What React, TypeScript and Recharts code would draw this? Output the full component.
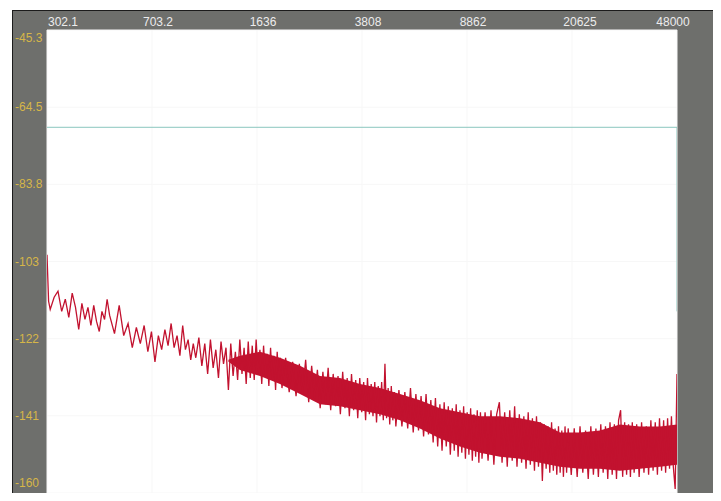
import { ComposedChart, Line, Area, XAxis, YAxis, CartesianGrid } from 'recharts';

// frequency axis (log) and level axis
const X_TICKS = [302.1, 703.2, 1636, 3808, 8862, 20625, 48000];
const Y_TICKS = [-45.3, -64.42, -83.53, -102.65, -121.77, -140.88, -160];
const Y_LABELS = ['-45.3', '-64.5', '-83.8', '-103', '-122', '-141', '-160'];

// spectrum trace (Hz / dB)
const FREQS = [
  302.1, 306, 310, 320, 330, 340, 350, 360, 370, 380, 390, 400, 410, 420, 430, 440, 450, 460, 470, 480, 490, 500,
  520, 540, 560, 580, 600, 620, 640, 660, 680, 700, 720, 740, 760, 780, 800, 820, 840, 860, 880, 900, 920, 940, 960, 980, 1000,
  1025, 1050, 1075, 1100, 1125, 1150, 1175, 1200, 1225, 1250, 1275, 1300, 1325, 1350, 1375, 1400, 1425, 1450, 1475, 1500,
  1525, 1550, 1575, 1600, 1625, 1650, 1675, 1700, 1725, 1750, 1775, 1800, 1825, 1850, 1875, 1900, 1925, 1950, 1975, 2000,
  2060, 2120, 2180, 2240, 2300, 2360, 2420, 2480, 2540, 2600, 2660, 2720, 2780, 2840, 2900, 2960, 3020, 3080, 3140,
  3200, 3260, 3320, 3380, 3440, 3500, 3560, 3620, 3680, 3740, 3800, 3860, 3920, 3980, 4040, 4100, 4160, 4220, 4280, 4340,
  4400, 4460, 4520, 4580, 4640, 4700, 4760, 4820, 4880, 4940, 5000,
  5125, 5250, 5375, 5500, 5625, 5750, 5875, 6000, 6125, 6250, 6375, 6500, 6625, 6750, 6875, 7000, 7125, 7250, 7375, 7500,
  7625, 7750, 7875, 8000, 8125, 8250, 8375, 8500, 8625, 8750, 8875, 9000, 9125, 9250, 9375, 9500, 9625, 9750, 9875, 10000,
  10250, 10500, 10750, 11000, 11250, 11500, 11750, 12000, 12250, 12500, 12750, 13000, 13250, 13500, 13750, 14000, 14250, 14500, 14750, 15000,
  15250, 15500, 15750, 16000, 16250, 16500, 16750, 17000, 17250, 17500, 17750, 18000, 18250, 18500, 18750, 19000, 19250, 19500, 19750, 20000,
  20500, 21000, 21500, 22000, 22500, 23000, 23500, 24000, 24500, 25000, 25500, 26000, 26500, 27000,
  27500, 28000, 28500, 29000, 29500, 30000, 30500, 31000, 31500, 32000, 32500, 33000, 33500, 34000,
  34700, 35400, 36100, 36800, 37500, 38200, 38900, 39600, 40300, 41000, 41700, 42400, 43100, 43800, 44500, 45200, 45900, 46600, 47300, 48000,
];
const LEVELS = [
  -101.0, -112.5, -114.5, -111.5, -110.0, -115.0, -112.0, -116.5, -110.5, -114.0, -119.5, -113.0, -117.0, -114.0, -118.5, -113.5, -117.5, -120.0, -115.0, -117.0, -112.0, -116.0,
  -120.5, -113.5, -121.0, -118.0, -124.0, -119.0, -123.0, -118.5, -125.0, -120.0, -127.5, -121.0, -124.5, -119.5, -123.5, -118.0, -124.0, -121.0, -126.0, -118.5, -124.5, -122.0, -127.0, -123.0, -126.5,
  -121.5, -128.5, -123.0, -130.5, -122.0, -129.0, -124.5, -131.5, -122.5, -128.0, -124.0, -134.5, -123.0, -131.0, -125.0, -132.0, -122.0, -130.5, -124.0, -133.0,
  -122.5, -131.5, -123.5, -132.0, -122.0, -130.5, -124.5, -133.0, -123.5, -131.0, -125.5, -133.5, -124.0, -132.0, -126.0, -134.5, -125.0, -132.5, -126.5, -134.0,
  -126.5, -135.0, -127.5, -136.0, -128.0, -135.5, -127.0, -137.5, -128.5, -136.5, -129.5, -139.0, -130.0, -138.0, -129.0, -139.5, -130.5, -138.5, -131.0,
  -140.5, -130.0, -139.0, -131.5, -141.0, -130.5, -139.5, -132.0, -141.5, -131.5, -140.0, -132.5, -142.0, -131.5, -140.5, -133.0, -141.0, -132.5, -142.5, -133.5,
  -141.0, -132.5, -142.0, -128.0, -141.5, -134.0, -143.0, -133.5, -142.0, -135.0, -143.5,
  -134.5, -143.5, -135.0, -144.0, -134.0, -145.0, -135.5, -144.5, -136.0, -146.0, -135.5, -145.5, -137.0, -147.5, -136.5, -148.5, -138.0, -149.5, -137.5, -148.5,
  -138.5, -150.5, -139.0, -149.5, -138.0, -151.0, -139.5, -150.0, -138.5, -151.5, -140.0, -150.5, -139.0, -152.0, -140.5, -151.0, -139.5, -152.5, -140.0, -151.5,
  -140.0, -152.0, -139.5, -153.0, -140.5, -137.5, -152.5, -140.0, -153.5, -139.5, -152.0, -138.5, -153.5, -140.5, -152.5, -141.0, -154.0, -140.0, -153.0, -141.5,
  -154.5, -141.0, -153.5, -142.5, -157.0, -143.0, -154.0, -143.5, -155.0, -142.5, -154.5, -144.0, -155.5, -143.5, -155.0, -144.5, -156.0, -143.5, -155.0, -144.0,
  -155.5, -144.0, -156.0, -143.5, -155.0, -144.5, -156.5, -143.5, -155.5, -144.0, -156.0, -143.0, -155.0, -143.5,
  -156.5, -142.5, -155.5, -143.0, -156.5, -142.0, -139.5, -156.0, -142.5, -155.5, -143.0, -156.0, -142.5, -155.0,
  -143.0, -156.0, -142.5, -155.0, -143.5, -155.5, -142.0, -154.5, -142.5, -155.5, -141.5, -154.5, -142.0, -155.0, -141.5, -154.0, -141.0, -153.5, -159.0, -130.5,
];

// dense core of the noise band
const BAND_FREQS = [1300, 1427, 1676, 1968, 2312, 2716, 3190, 3746, 4400, 5170, 6069, 7130, 8375, 9837, 11553, 13570, 15940, 18720, 21985, 25820, 30330, 35620, 41840, 48000];
const BAND_LO = [-127.5, -129.5, -131, -133, -135.5, -138, -138.5, -139.5, -140.5, -142, -144, -146.5, -148.5, -150, -151, -151.5, -152.5, -153.5, -154, -154, -154.5, -154, -153.5, -153];
const BAND_HI = [-127, -126, -125, -126.5, -128.5, -131, -131.5, -133, -134, -135.5, -137, -139, -140, -141, -141, -141.5, -142.5, -145, -145, -144.5, -143, -143.5, -143.5, -143];

// reference line (cyan)
const REF_FREQS = [302.1, 48000, 48000];
const REF_LEVELS = [-69.4, -69.4, -115];

const spec = FREQS.map((f, i) => ({ f, db: LEVELS[i] }));
const band = BAND_FREQS.map((f, i) => ({ f, range: [BAND_LO[i], BAND_HI[i]] }));
const ref = REF_FREQS.map((f, i) => ({ f, db: REF_LEVELS[i] }));

const RED = '#c2122f';
const FONT = '"Liberation Sans", Arial, sans-serif';

const XTick = ({ x, index, payload }: any) => {
  const last = X_TICKS.length - 1;
  const dx = index === 0 ? 16 : index === last ? -4 : index === 5 ? 8 : 6;
  return (
    <text x={x + dx} y={16} textAnchor="middle" fill="#ececec" fontSize={12} fontFamily={FONT}>
      {String(payload.value)}
    </text>
  );
};

const YTick = ({ y, index }: any) => {
  const last = Y_TICKS.length - 1;
  const dy = index === 0 ? 8 : index === last ? -6 : 0;
  return (
    <text x={3} y={y + dy + 4} textAnchor="start" fill="#d6b648" fontSize={12} fontFamily={FONT}>
      {Y_LABELS[index]}
    </text>
  );
};

export default function App() {
  return (
    <div style={{ position: 'relative', width: 721, height: 501, margin: -8, background: '#fff' }}>
      <div
        style={{
          position: 'absolute', left: 12, top: 10, width: 703, height: 488,
          background: '#6e6f6c', border: '1px solid #1c1c1c', boxSizing: 'border-box',
        }}
      />
      <div style={{ position: 'absolute', left: 12, top: 10 }}>
        <ComposedChart width={703} height={488} margin={{ top: 0, right: 38, bottom: 5, left: 0 }}>
          <CartesianGrid fill="#ffffff" stroke="#f7f7f7" />
          <XAxis
            dataKey="f"
            type="number"
            scale="log"
            orientation="top"
            domain={[302.1, 48000]}
            ticks={X_TICKS}
            height={20}
            axisLine={false}
            tickLine={false}
            tick={<XTick />}
            allowDataOverflow
          />
          <YAxis
            type="number"
            domain={[-160, -45.3]}
            ticks={Y_TICKS}
            width={35}
            axisLine={false}
            tickLine={false}
            tick={<YTick />}
            allowDataOverflow
          />
          <Line data={ref} dataKey="db" stroke="#8ac6be" strokeWidth={1} dot={false} isAnimationActive={false} />
          <Area data={band} dataKey="range" stroke="none" fill={RED} fillOpacity={1} isAnimationActive={false} />
          <Line data={spec} dataKey="db" stroke={RED} strokeWidth={1.3} dot={false} isAnimationActive={false} />
        </ComposedChart>
      </div>
    </div>
  );
}
